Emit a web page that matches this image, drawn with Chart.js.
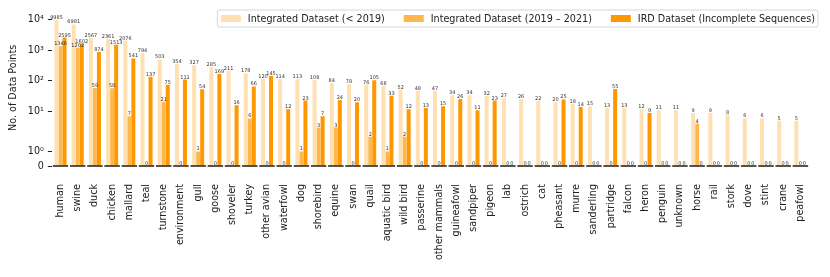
<!DOCTYPE html>
<html><head><meta charset="utf-8">
<script src="https://cdn.jsdelivr.net/npm/chart.js@4.4.0/dist/chart.umd.min.js"></script>
<style>html,body{margin:0;padding:0;background:#fff;}#wrap{width:830px;height:277px;position:relative;}</style>
</head><body><div id="wrap"><canvas id="c" width="830" height="277"></canvas></div>
<script>
const categories = ['human','swine','duck','chicken','mallard','teal','turnstone','environment','gull','goose','shoveler','turkey','other avian','waterfowl','dog','shorebird','equine','swan','quail','aquatic bird','wild bird','passerine','other mammals','guineafowl','sandpiper','pigeon','lab','ostrich','cat','pheasant','murre','sanderling','partridge','falcon','heron','penguin','unknown','horse','rail','stork','dove','stint','crane','peafowl'];
const seriesNames = ['Integrated Dataset (< 2019)', 'Integrated Dataset (2019 – 2021)', 'IRD Dataset (Incomplete Sequences)'];
const before2019 = [9985,6981,2567,2361,2076,794,503,354,327,285,211,178,120,114,113,108,84,78,76,68,52,48,47,34,34,32,27,26,22,20,18,15,13,13,12,11,11,9,9,8,6,6,5,5];
const from2019to2021 = [1346,1202,59,58,7,0,21,0,1,0,0,6,0,0,1,3,3,0,2,1,2,0,0,0,0,0,0,0,0,0,0,0,0,0,0,0,0,4,0,0,0,0,0,0];
const irdIncomplete = [2595,1602,874,1513,541,137,75,111,54,169,16,66,145,12,23,7,24,20,105,33,12,13,15,26,11,23,0,0,0,25,14,0,55,0,9,0,0,0,0,0,0,0,0,0];
const yTickValues = [0,1,10,100,1000,10000];
const yTickLabels = ['0','10⁰','10¹','10²','10³','10⁴'];

const colors = ['rgb(255,224,178)','rgb(255,183,77)','rgb(255,152,0)'];
const FONT = 'DejaVu Sans';
const FS = 9.6;

// symmetric log transform
const LIN_T = 2.45, LIN_S = 1.164;
function symT(v){ const a=Math.abs(v), s=v<0?-1:1; return a<=LIN_T ? v*LIN_S : s*LIN_T*(LIN_S+Math.log10(a/LIN_T)); }
function symInv(t){ const a=Math.abs(t), s=t<0?-1:1; return a<=LIN_T*LIN_S ? t/LIN_S : s*LIN_T*Math.pow(10, a/LIN_T - LIN_S); }
class SymlogScale extends Chart.LinearScale {
  buildTicks(){ return yTickValues.map(v=>({value:v})); }
  getPixelForValue(v){
    if (v === null || v === undefined || isNaN(v)) return NaN;
    const t0=symT(this.min), t1=symT(this.max);
    return this.getPixelForDecimal((symT(v)-t0)/(t1-t0));
  }
  getValueForPixel(p){
    const t0=symT(this.min), t1=symT(this.max);
    return symInv(t0 + this.getDecimalForPixel(p)*(t1-t0));
  }
}
SymlogScale.id = 'symlog';
SymlogScale.defaults = {};
Chart.register(SymlogScale);

Chart.defaults.font.family = FONT;
Chart.defaults.color = '#222';

const baseSegments = {
  id:'baseSegments',
  afterDatasetsDraw(chart){
    const ctx = chart.ctx, xs = chart.scales.x, ys = chart.scales.y;
    const w = xs.width / categories.length;
    const y = ys.getPixelForValue(0);
    ctx.save();
    ctx.strokeStyle = '#2a2a2a'; ctx.lineWidth = 1.6;
    categories.forEach((c,i)=>{
      const cx = xs.getPixelForValue(i);
      ctx.beginPath(); ctx.moveTo(cx-0.45*w, y); ctx.lineTo(cx+0.45*w, y); ctx.stroke();
    });
    ctx.restore();
  }
};

const valueLabels = {
  id:'valueLabels',
  afterDatasetsDraw(chart){
    const ctx = chart.ctx;
    ctx.save();
    ctx.font = '5px "' + FONT + '"';
    ctx.fillStyle = '#333';
    ctx.textAlign = 'center';
    ctx.textBaseline = 'alphabetic';
    chart.data.datasets.forEach((ds,i)=>{
      const meta = chart.getDatasetMeta(i);
      meta.data.forEach((el,j)=>{ ctx.fillText(String(ds.data[j]), el.x, el.y - 1); });
    });
    ctx.restore();
  }
};

const boxLegend = {
  id:'boxLegend',
  afterDraw(chart){
    const ctx = chart.ctx;
    ctx.save();
    ctx.font = FS + 'px "' + FONT + '"';
    const sw = 20, sh = 7, gapT = 7, gapI = 19, padL = 3.5, padR = 3;
    const widths = seriesNames.map(s=>ctx.measureText(s).width);
    const total = widths.reduce((a,b)=>a+b,0) + seriesNames.length*(sw+gapT) + (seriesNames.length-1)*gapI;
    const right = 818, top = 10, h = 17;
    const left = right - padR - total - padL;
    const r = 2;
    ctx.beginPath();
    ctx.moveTo(left+r, top); ctx.lineTo(right-r, top); ctx.quadraticCurveTo(right, top, right, top+r);
    ctx.lineTo(right, top+h-r); ctx.quadraticCurveTo(right, top+h, right-r, top+h);
    ctx.lineTo(left+r, top+h); ctx.quadraticCurveTo(left, top+h, left, top+h-r);
    ctx.lineTo(left, top+r); ctx.quadraticCurveTo(left, top, left+r, top);
    ctx.closePath();
    ctx.fillStyle = 'rgba(255,255,255,0.8)'; ctx.fill();
    ctx.strokeStyle = '#cccccc'; ctx.lineWidth = 0.8; ctx.stroke();
    let x = left + padL;
    const cy = top + h/2;
    ctx.textBaseline = 'middle'; ctx.textAlign = 'left';
    seriesNames.forEach((s,i)=>{
      ctx.fillStyle = colors[i];
      ctx.fillRect(x, cy - sh/2, sw, sh);
      ctx.fillStyle = '#222';
      ctx.fillText(s, x + sw + gapT, cy + 0.5);
      x += sw + gapT + widths[i] + gapI;
    });
    ctx.restore();
  }
};

const seriesData = [before2019, from2019to2021, irdIncomplete];
new Chart(document.getElementById('c'), {
  type:'bar',
  data:{
    labels: categories,
    datasets: seriesData.map((d,i)=>({
      label: seriesNames[i], data: d, backgroundColor: colors[i], borderWidth:0,
      categoryPercentage:0.7, barPercentage:1.0
    }))
  },
  options:{
    responsive:false, animation:false, devicePixelRatio:1,
    layout:{padding:{left:0, right:7.1, top:5, bottom:0}},
    plugins:{legend:{display:false}, tooltip:{enabled:false}},
    scales:{
      x:{
        grid:{display:false, drawTicks:false}, border:{display:false},
        ticks:{autoSkip:false, maxRotation:90, minRotation:90, padding:18, color:'#222', font:{family:FONT, size:FS}},
        afterFit(s){ s.height = 277 - 166; }
      },
      y:{
        type:'symlog', min:0, max:21000,
        grid:{display:true, drawOnChartArea:false, drawTicks:true, tickLength:4, color:'#222', lineWidth:1},
        border:{display:false},
        ticks:{padding:4, color:'#222', font:{family:FONT, size:FS},
          callback:(v)=>{ const k = yTickValues.indexOf(v); return k>=0 ? yTickLabels[k] : ''; }},
        title:{display:true, text:'No. of Data Points', color:'#222', font:{family:FONT, size:FS}, padding:{top:8, bottom:0}},
        afterFit(s){ s.width = 51.9; }
      }
    }
  },
  plugins:[baseSegments, valueLabels, boxLegend]
});
</script></body></html>
